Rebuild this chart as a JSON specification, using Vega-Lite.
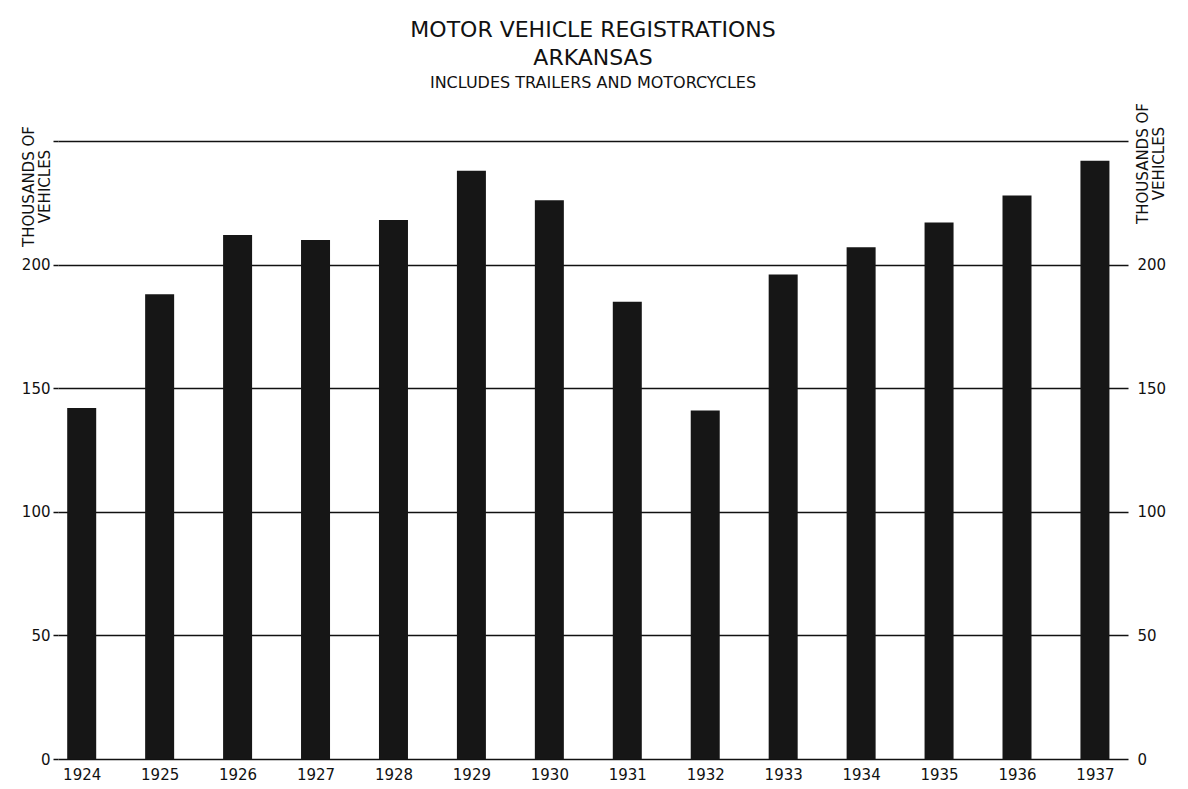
{
  "$schema": "https://vega.github.io/schema/vega-lite/v6.json",
  "width": 1070,
  "height": 618,
  "autosize": {"type": "none"},
  "padding": {"left": 58, "top": 141, "right": 60, "bottom": 30},
  "background": "white",
  "config": {
    "view": {"stroke": null},
    "font": "DejaVu Sans"
  },
  "title": {
    "text": ["MOTOR VEHICLE  REGISTRATIONS", "ARKANSAS"],
    "subtitle": "INCLUDES TRAILERS AND MOTORCYCLES",
    "anchor": "middle",
    "frame": "group",
    "offset": 11,
    "font": "DejaVu Sans",
    "fontSize": 22,
    "fontWeight": "normal",
    "lineHeight": 28,
    "color": "#111111",
    "subtitleFont": "DejaVu Sans",
    "subtitleFontSize": 16,
    "subtitleColor": "#111111",
    "subtitlePadding": 5
  },
  "data": {
    "values": [
      {"year": 1924, "vehicles": 142},
      {"year": 1925, "vehicles": 188},
      {"year": 1926, "vehicles": 212},
      {"year": 1927, "vehicles": 210},
      {"year": 1928, "vehicles": 218},
      {"year": 1929, "vehicles": 238},
      {"year": 1930, "vehicles": 226},
      {"year": 1931, "vehicles": 185},
      {"year": 1932, "vehicles": 141},
      {"year": 1933, "vehicles": 196},
      {"year": 1934, "vehicles": 207},
      {"year": 1935, "vehicles": 217},
      {"year": 1936, "vehicles": 228},
      {"year": 1937, "vehicles": 242}
    ]
  },
  "encoding": {
    "x": {
      "field": "year",
      "type": "quantitative",
      "scale": {"domain": [1923.76, 1937.36], "nice": false, "zero": false},
      "axis": {
        "title": null,
        "values": [1924, 1925, 1926, 1927, 1928, 1929, 1930, 1931, 1932, 1933, 1934, 1935, 1936, 1937],
        "format": "d",
        "grid": false,
        "domain": false,
        "ticks": false,
        "labelPadding": 8,
        "labelFontSize": 15,
        "labelFont": "DejaVu Sans",
        "labelColor": "#111111",
        "labelFlush": false
      }
    },
    "y": {
      "field": "vehicles",
      "type": "quantitative",
      "scale": {"domain": [0, 250], "nice": false}
    }
  },
  "layer": [
    {
      "mark": {"type": "bar", "width": 29, "color": "#161616"},
      "encoding": {
        "y": {
          "field": "vehicles",
          "type": "quantitative",
          "scale": {"domain": [0, 250], "nice": false},
          "axis": {
            "orient": "left",
            "values": [0, 50, 100, 150, 200, 250],
            "labelExpr": "datum.value == 250 ? '' : datum.label",
            "grid": true,
            "gridColor": "#111111",
            "gridWidth": 1.5,
            "gridOpacity": 1,
            "domain": false,
            "ticks": true,
            "tickSize": 5,
            "tickColor": "#111111",
            "tickWidth": 1.5,
            "labelPadding": 3,
            "labelFontSize": 15,
            "labelFont": "DejaVu Sans",
            "labelColor": "#111111",
            "title": ["THOUSANDS OF", "VEHICLES"],
            "titleFont": "DejaVu Sans",
            "titleFontSize": 15,
            "titleFontWeight": "normal",
            "titleColor": "#111111",
            "titleLineHeight": 16,
            "titleAngle": -90,
            "titleAlign": "center",
            "titleBaseline": "middle",
            "titleX": -30,
            "titleY": 45
          }
        }
      }
    },
    {
      "mark": {"type": "bar", "width": 29, "opacity": 0},
      "encoding": {
        "y": {
          "field": "vehicles",
          "type": "quantitative",
          "scale": {"domain": [0, 250], "nice": false},
          "axis": {
            "orient": "right",
            "values": [0, 50, 100, 150, 200],
            "grid": false,
            "domain": false,
            "ticks": false,
            "labelPadding": 9,
            "labelFontSize": 15,
            "labelFont": "DejaVu Sans",
            "labelColor": "#111111",
            "title": ["THOUSANDS OF", "VEHICLES"],
            "titleFont": "DejaVu Sans",
            "titleFontSize": 15,
            "titleFontWeight": "normal",
            "titleColor": "#111111",
            "titleLineHeight": 16,
            "titleAngle": -90,
            "titleAlign": "center",
            "titleBaseline": "middle",
            "titleX": 14,
            "titleY": 22
          }
        }
      }
    }
  ],
  "resolve": {"axis": {"y": "independent"}}
}
